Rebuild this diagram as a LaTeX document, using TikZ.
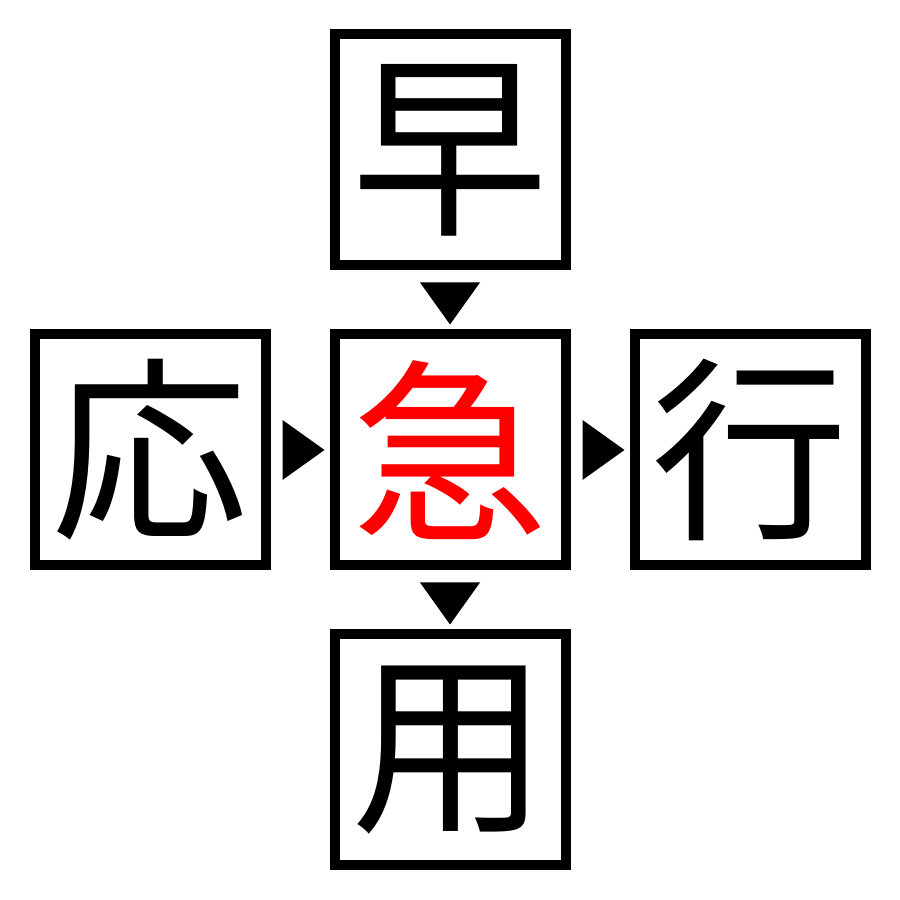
\documentclass[tikz,border=0pt]{standalone}
\usepackage{fontspec}
\newfontfamily\jpfont{Noto Sans CJK JP}
\usetikzlibrary{calc}
\tikzstyle{kanji}=[draw, line width=1mm, inner sep=0pt, minimum size=2.31cm, font=\jpfont\fontsize{56}{56}\selectfont]
\tikzstyle{hub}=[kanji, text=red]
\tikzstyle{pointer}=[fill=black]

\begin{document}
\begin{tikzpicture}
        \useasboundingbox (0, 0) rectangle (9, 9);
        \node[kanji] (top)    at (4.5, 7.5) {早};
        \node[kanji] (left)   at (1.5, 4.5) {応};
        \node[hub]   (centre) at (4.5, 4.5) {急};
        \node[kanji] (right)  at (7.5, 4.5) {行};
        \node[kanji] (bottom) at (4.5, 1.5) {用};
        % down pointers
        \fill[pointer] ($(top.south) + (-0.3, -0.12)$) -- ++(0.6, 0) -- ($(centre.north) + (0, 0.05)$) -- cycle;
        \fill[pointer] ($(centre.south) + (-0.3, -0.12)$) -- ++(0.6, 0) -- ($(bottom.north) + (0, 0.05)$) -- cycle;
        % right pointers
        \fill[pointer] ($(left.east) + (0.12, 0.3)$) -- ++(0, -0.6) -- ($(centre.west) + (-0.05, 0)$) -- cycle;
        \fill[pointer] ($(centre.east) + (0.12, 0.3)$) -- ++(0, -0.6) -- ($(right.west) + (-0.05, 0)$) -- cycle;
    \end{tikzpicture}
\end{document}
